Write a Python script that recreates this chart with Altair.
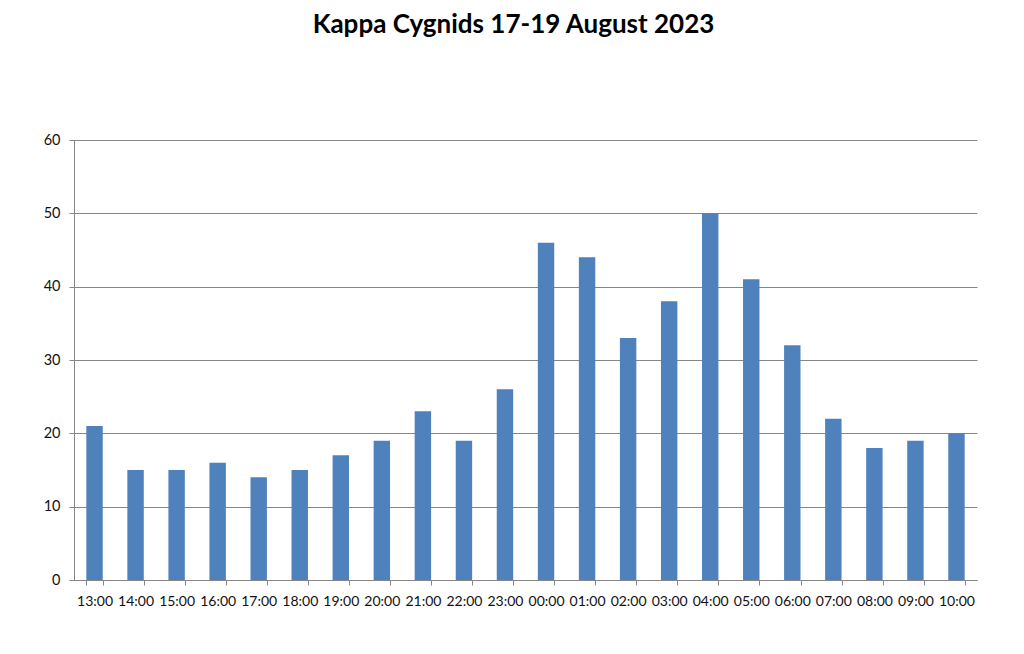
import altair as alt
import pandas as pd

hours = ["13:00", "14:00", "15:00", "16:00", "17:00", "18:00", "19:00", "20:00",
         "21:00", "22:00", "23:00", "00:00", "01:00", "02:00", "03:00", "04:00",
         "05:00", "06:00", "07:00", "08:00", "09:00", "10:00"]
counts = [21, 15, 15, 16, 14, 15, 17, 19, 23, 19, 26, 46, 44, 33, 38, 50,
          41, 32, 22, 18, 19, 20]

df = pd.DataFrame({"hour": hours, "count": counts})

FONT = "Lato"
GRID = "#868686"

chart = alt.Chart(df).mark_bar(color="#4F81BD").encode(
    x=alt.X("hour:N", sort=hours,
            scale=alt.Scale(paddingInner=0.6, paddingOuter=0.3),
            axis=alt.Axis(title=None, labelAngle=0, tickBand="extent",
                          domainColor=GRID, tickColor=GRID, tickSize=5,
                          labelFont=FONT, labelFontSize=14, labelColor="#111111",
                          labelPadding=9, grid=False)),
    y=alt.Y("count:Q", scale=alt.Scale(domain=[0, 60]),
            axis=alt.Axis(title=None, values=[0, 10, 20, 30, 40, 50, 60],
                          domainColor=GRID, tickColor=GRID, tickSize=5,
                          gridColor=GRID, gridWidth=1, gridOpacity=1,
                          labelFont=FONT, labelFontSize=14.5, labelColor="#111111",
                          labelPadding=9)),
).properties(
    width=903,
    height=440,
    background="white",
    title=alt.TitleParams(
        text="Kappa Cygnids 17-19 August 2023",
        font=FONT, fontSize=26, fontWeight="bold", color="#000000",
        anchor="middle", frame="group", dx=-12, offset=94,
    ),
    autosize=alt.AutoSizeParams(type="none"),
    padding={"left": 66, "top": 132, "right": 30, "bottom": 50},
).configure_view(stroke=None, strokeWidth=0)

chart.save("out.html", embed_options={"renderer": "svg", "actions": False})
